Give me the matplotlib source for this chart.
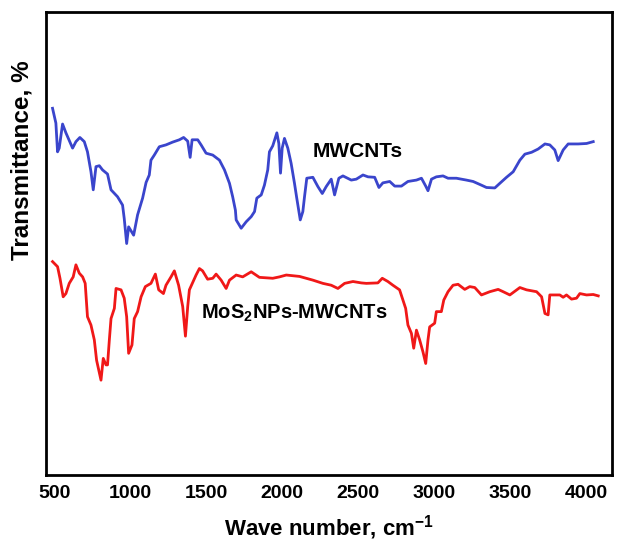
import matplotlib
matplotlib.use("Agg")
import matplotlib.pyplot as plt

plt.rcParams["font.family"] = ["Liberation Sans", "DejaVu Sans"]
plt.rcParams["mathtext.fontset"] = "custom"
plt.rcParams["mathtext.rm"] = "Liberation Sans"
plt.rcParams["mathtext.bf"] = "Liberation Sans:bold"

# MWCNTs spectrum (wavenumber, transmittance a.u.)
wn_mw = [488, 510, 521, 532, 554, 576, 620, 642, 668, 697, 718, 741, 756, 774, 796,
         817, 850, 873, 916, 949, 960, 976, 989, 1022, 1048, 1081, 1104, 1125, 1136,
         1158, 1191, 1235, 1279, 1323, 1351, 1378, 1394, 1407, 1444, 1466, 1499, 1543,
         1587, 1620, 1653, 1674, 1692, 1697, 1730, 1763, 1796, 1818, 1833, 1862, 1883,
         1905, 1916, 1938, 1965, 1978, 1989, 2000, 2015, 2037, 2059, 2081, 2096, 2119,
         2136, 2147, 2162, 2202, 2235, 2264, 2290, 2323, 2345, 2373, 2400, 2455, 2488,
         2532, 2565, 2609, 2637, 2663, 2708, 2741, 2785, 2828, 2884, 2917, 2945, 2960,
         2983, 3015, 3059, 3092, 3147, 3213, 3257, 3312, 3345, 3400, 3433, 3477, 3521,
         3565, 3598, 3642, 3685, 3730, 3762, 3795, 3817, 3850, 3883, 3949, 4004, 4048]
t_mw = [79.2, 76.0, 69.8, 70.6, 75.8, 73.9, 70.6, 72.0, 72.9, 72.0, 69.8, 65.5, 61.6,
        66.6, 66.8, 65.9, 65.0, 61.6, 60.1, 58.3, 55.4, 50.0, 53.6, 51.8, 56.2, 59.8,
        63.2, 64.8, 68.0, 69.1, 70.9, 71.3, 71.9, 72.4, 72.9, 72.1, 68.6, 72.4, 72.4,
        71.3, 69.5, 69.1, 68.0, 65.9, 63.0, 60.1, 57.2, 55.1, 53.3, 54.7, 55.8, 56.9,
        59.8, 60.5, 62.6, 65.9, 69.8, 71.1, 73.9, 71.6, 65.2, 70.6, 72.7, 70.6, 67.3,
        63.0, 59.8, 55.1, 56.9, 60.1, 64.1, 64.3, 62.3, 60.8, 62.3, 63.9, 60.5, 64.1,
        64.6, 63.7, 63.9, 64.8, 64.4, 64.3, 62.1, 63.1, 63.4, 62.4, 62.4, 63.4, 63.7,
        64.1, 62.4, 61.4, 63.9, 64.4, 64.6, 64.1, 64.1, 63.7, 63.4, 62.6, 62.1, 62.0,
        63.0, 64.3, 65.5, 68.0, 69.3, 69.7, 70.4, 71.5, 71.3, 70.2, 67.9, 70.2, 71.5,
        71.5, 71.6, 72.0]

# MoS2NPs-MWCNTs spectrum
wn_mos = [488, 521, 537, 558, 576, 598, 624, 642, 664, 686, 703, 718, 741, 763, 778,
          807, 822, 840, 850, 862, 873, 895, 906, 939, 960, 976, 989, 1011, 1026, 1048,
          1071, 1099, 1136, 1165, 1187, 1218, 1235, 1268, 1290, 1318, 1345, 1363, 1378,
          1389, 1433, 1455, 1476, 1509, 1543, 1565, 1598, 1631, 1653, 1697, 1740, 1796,
          1850, 1938, 1982, 2027, 2114, 2158, 2202, 2268, 2323, 2367, 2411, 2466, 2521,
          2554, 2630, 2659, 2696, 2729, 2773, 2795, 2813, 2828, 2851, 2866, 2884, 2905,
          2927, 2945, 2960, 2971, 3004, 3015, 3048, 3064, 3092, 3125, 3158, 3202, 3235,
          3268, 3312, 3367, 3422, 3455, 3499, 3565, 3609, 3675, 3708, 3730, 3751, 3762,
          3828, 3850, 3872, 3905, 3938, 3960, 4004, 4048, 4081]
t_mos = [46.1, 45.0, 42.5, 38.5, 39.2, 41.4, 42.8, 45.4, 43.6, 42.8, 41.4, 34.2, 32.4,
         29.2, 24.8, 20.5, 25.2, 23.8, 23.8, 29.2, 33.8, 36.0, 40.3, 40.0, 38.2, 34.2,
         26.3, 28.1, 33.8, 35.3, 38.5, 40.7, 41.4, 43.4, 40.0, 39.2, 41.0, 42.8, 44.1,
         41.0, 36.4, 30.0, 36.4, 40.0, 43.2, 44.6, 44.1, 42.3, 42.5, 43.4, 42.1, 40.3,
         42.1, 43.2, 42.8, 43.9, 42.7, 42.5, 42.8, 43.2, 42.9, 42.5, 42.1, 41.4, 41.0,
         40.3, 41.4, 41.8, 41.5, 41.4, 41.5, 42.5, 41.8, 41.0, 40.0, 37.8, 36.0, 32.4,
         30.6, 27.4, 31.3, 29.2, 26.6, 24.1, 29.2, 32.0, 32.8, 35.3, 35.3, 37.8, 39.6,
         41.0, 41.2, 40.1, 40.7, 40.5, 38.9, 39.6, 40.1, 39.6, 38.9, 40.5, 40.0, 39.6,
         38.5, 34.9, 34.6, 38.9, 38.9, 38.4, 38.9, 38.0, 38.2, 39.2, 38.9, 39.0, 38.7]

xticks = [500, 1000, 1500, 2000, 2500, 3000, 3500, 4000]

fig = plt.figure(figsize=(6.26, 5.43), dpi=100)
ax = fig.add_axes([0.0735, 0.125, 0.904, 0.853])

ax.plot(wn_mw, t_mw, color="#3a45cc", lw=2.0)
ax.plot(wn_mos, t_mos, color="#f01818", lw=2.0)

ax.text(2200, 69.8, "MWCNTs", fontsize=15, fontweight="bold", va="center")
ax.text(1468, 35.0, r"MoS$_{\mathbf{2}}$NPs-MWCNTs", fontsize=14.5,
        fontweight="bold", va="center")

ax.set_xlim(445, 4171)
ax.set_ylim(0, 100)
ax.set_xticks(xticks)
ax.set_xticklabels([str(t) for t in xticks], fontsize=14, fontweight="bold")
ax.set_yticks([])
ax.tick_params(axis="x", length=0, pad=7)
for s in ax.spines.values():
    s.set_linewidth(2)
    s.set_color("black")

ax.set_xlabel(r"Wave number, cm$^{\mathbf{-1}}$", fontsize=16, fontweight="bold",
              labelpad=8)
fig.text(0.035, 0.705, "Transmittance, %", rotation=90, fontsize=17.5,
         fontweight="bold", ha="center", va="center")

fig.savefig("out.png", dpi=100, facecolor="white")
